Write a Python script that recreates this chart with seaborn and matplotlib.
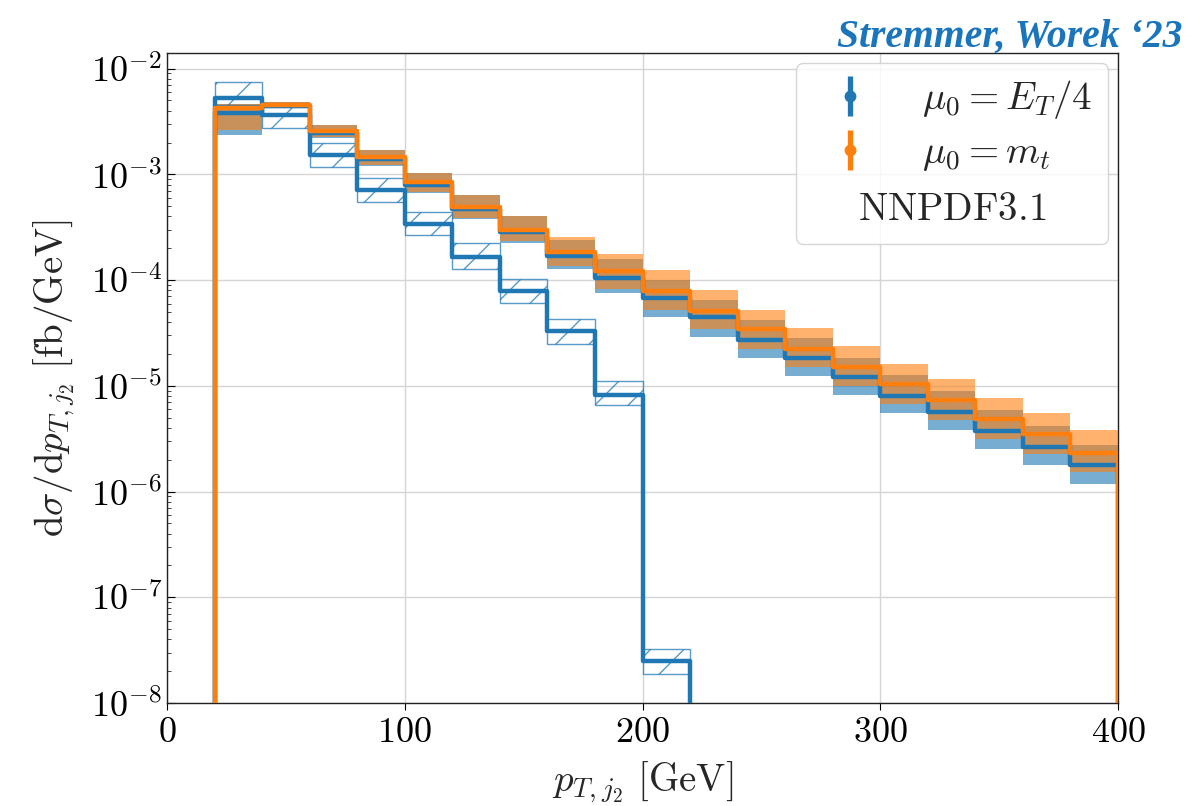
import numpy as np
import pandas as pd
import matplotlib
matplotlib.use("Agg")
import matplotlib.pyplot as plt
import seaborn as sns
from matplotlib.lines import Line2D
from matplotlib.legend_handler import HandlerTuple
from matplotlib.ticker import FuncFormatter, LogLocator, NullFormatter, FixedLocator

# ---------------------------------------------------------------- data
# bin edges in GeV
edges = np.arange(20, 401, 20)
edges_low = np.arange(20, 221, 20)

# mu0 = m_t : central value and scale band
mt_central = [4.2e-3, 4.58e-3, 2.55e-3, 1.46e-3, 8.4e-4, 4.9e-4, 2.97e-4, 1.85e-4, 1.22e-4, 7.9e-5,
              5.1e-5, 3.41e-5, 2.25e-5, 1.51e-5, 1.03e-5, 7.3e-6, 4.9e-6, 3.54e-6, 2.34e-6]
mt_high = [4.6e-3, 4.8e-3, 2.92e-3, 1.7e-3, 1.04e-3, 6.45e-4, 4.0e-4, 2.57e-4, 1.76e-4, 1.24e-4,
           8.0e-5, 5.27e-5, 3.51e-5, 2.39e-5, 1.62e-5, 1.15e-5, 7.6e-6, 5.55e-6, 3.8e-6]
mt_low = [2.62e-3, 4.3e-3, 2.26e-3, 1.23e-3, 6.8e-4, 3.9e-4, 2.33e-4, 1.35e-4, 8.3e-5, 5.2e-5,
          3.41e-5, 2.22e-5, 1.51e-5, 9.9e-6, 6.8e-6, 4.8e-6, 3.17e-6, 2.25e-6, 1.53e-6]

# mu0 = E_T/4 : central value and scale band
et_central = [3.77e-3, 4.45e-3, 2.45e-3, 1.4e-3, 8.0e-4, 4.7e-4, 2.82e-4, 1.68e-4, 1.05e-4, 6.7e-5,
              4.43e-5, 2.74e-5, 1.84e-5, 1.21e-5, 8.0e-6, 5.7e-6, 3.74e-6, 2.64e-6, 1.77e-6]
et_high = [4.6e-3, 4.8e-3, 2.92e-3, 1.7e-3, 1.02e-3, 6.4e-4, 4.0e-4, 2.4e-4, 1.58e-4, 1.01e-4,
           6.5e-5, 4.18e-5, 2.86e-5, 1.85e-5, 1.26e-5, 8.9e-6, 5.9e-6, 4.18e-6, 2.74e-6]
et_low = [2.38e-3, 4.25e-3, 2.2e-3, 1.2e-3, 6.6e-4, 3.75e-4, 2.22e-4, 1.26e-4, 7.5e-5, 4.5e-5,
          2.9e-5, 1.85e-5, 1.23e-5, 8.1e-6, 5.5e-6, 3.8e-6, 2.53e-6, 1.77e-6, 1.17e-6]

# mu0 = E_T/4, second prediction (hatched band), up to 220 GeV
eth_central = [5.3e-3, 3.63e-3, 1.53e-3, 7.1e-4, 3.43e-4, 1.64e-4, 7.9e-5, 3.3e-5, 8.1e-6, 2.5e-8]
eth_high = [7.5e-3, 4.3e-3, 2.0e-3, 9.2e-4, 4.4e-4, 2.22e-4, 1.03e-4, 4.27e-5, 1.11e-5, 3.27e-8]
eth_low = [4.5e-3, 2.75e-3, 1.18e-3, 5.5e-4, 2.66e-4, 1.26e-4, 6.1e-5, 2.51e-5, 6.6e-6, 1.9e-8]

labels = [r"$\mu_0 = E_T/4$", r"$\mu_0 = m_t$"]
pdf_set = r"$\mathrm{NNPDF3.1}$"
credit = "Stremmer, Worek \u201823"

BLUE = "#1f77b4"
ORANGE = "#ff7f0e"
YMIN, YMAX = 1e-8, 1.4e-2

# ---------------------------------------------------------------- style
sns.set_style("ticks")
plt.rcParams["mathtext.fontset"] = "cm"
plt.rcParams["font.family"] = ["DejaVu Serif"]
plt.rcParams["hatch.linewidth"] = 1.0
FS = 26
LABEL_FS = 28


def step_frame(bin_edges, values, floor):
    """Histogram outline (with drops to the floor at both ends) as a frame."""
    x = [bin_edges[0]] + list(bin_edges) + [bin_edges[-1]]
    y = [floor] + list(values) + [values[-1], floor]
    return pd.DataFrame({"x": x, "y": y})


def extend(values):
    return list(values) + [values[-1]]


fig = plt.figure(figsize=(12.04, 8.06), dpi=100)
ax = fig.add_axes([0.1387, 0.1278, 0.7899, 0.8062])
ax.set_yscale("log")

# scale-uncertainty bands
ax.fill_between(edges, extend(et_low), extend(et_high), step="post",
                color=BLUE, alpha=0.6, lw=0, zorder=2)
ax.fill_between(edges, extend(mt_low), extend(mt_high), step="post",
                color=ORANGE, alpha=0.6, lw=0, zorder=3)

# hatched band, one box per bin
ax.bar(edges_low[:-1], np.array(eth_high) - np.array(eth_low), width=20,
       bottom=eth_low, align="edge", fill=False, hatch="/",
       edgecolor=(0.12, 0.47, 0.71, 0.75), lw=1.0, zorder=4)

# histogram outlines
floor = YMIN * 1e-3
sns.lineplot(data=step_frame(edges_low, eth_central, floor), x="x", y="y", ax=ax,
             estimator=None, sort=False, drawstyle="steps-post", color=BLUE,
             lw=3.2, zorder=5)
sns.lineplot(data=step_frame(edges, et_central, floor), x="x", y="y", ax=ax,
             estimator=None, sort=False, drawstyle="steps-post", color=BLUE,
             lw=3.2, zorder=5)
sns.lineplot(data=step_frame(edges, mt_central, floor), x="x", y="y", ax=ax,
             estimator=None, sort=False, drawstyle="steps-post", color=ORANGE,
             lw=3.2, zorder=6)

# ---------------------------------------------------------------- axes
ax.set_xlim(0, 400)
ax.set_ylim(YMIN, YMAX)
ax.xaxis.set_major_locator(FixedLocator([0, 100, 200, 300, 400]))
ax.xaxis.set_major_formatter(FuncFormatter(lambda v, p: f"${v:g}$"))
ax.yaxis.set_major_locator(LogLocator(base=10, numticks=20))
ax.yaxis.set_minor_locator(LogLocator(base=10, subs=np.arange(2, 10), numticks=20))
ax.yaxis.set_major_formatter(FuncFormatter(lambda v, p: f"$10^{{{int(round(np.log10(v)))}}}$"))
ax.yaxis.set_minor_formatter(NullFormatter())
ax.tick_params(axis="both", labelsize=FS, colors="black")
ax.tick_params(axis="y", which="both", direction="in")
ax.tick_params(axis="y", which="major", length=6)
ax.tick_params(axis="y", which="minor", length=3)
ax.tick_params(axis="x", which="major", length=5, direction="out")
ax.grid(True, which="major", color="#d5d5d5", lw=1.0, zorder=0)
ax.set_axisbelow(True)
for s in ax.spines.values():
    s.set_visible(True)
    s.set_color("#222222")
    s.set_linewidth(1.0)

ax.set_xlabel(r"$p_{T,j_2}\ [\mathrm{GeV}]$", fontsize=LABEL_FS, labelpad=8)
ax.set_ylabel(r"$\mathrm{d}\sigma/\mathrm{d}p_{T,j_2}\ [\mathrm{fb/GeV}]$", fontsize=LABEL_FS, labelpad=10)

# ---------------------------------------------------------------- legend
handles = []
for c in (BLUE, ORANGE):
    bar = Line2D([], [], color=c, marker="|", markersize=29, mew=3.8, ls="none")
    dot = Line2D([], [], color=c, marker="o", markersize=7.5, ls="none")
    handles.append((bar, dot))
leg = ax.legend(handles, labels, handler_map={tuple: HandlerTuple(ndivide=1)},
                loc="upper right", fontsize=28, title=pdf_set, title_fontsize=28,
                frameon=True, fancybox=True, framealpha=0.8, edgecolor="#cccccc",
                borderaxespad=0.25, borderpad=0.4, handlelength=2.0,
                handletextpad=0.86, labelspacing=0.33)
# place the PDF-set note underneath the entries
box = leg._legend_box
box._children = [box._children[1], box._children[0]]
box.sep = 13

fig.text(0.982, 0.977, credit, ha="right", va="top", color="#1a75bc",
         fontsize=28.5, fontstyle="italic", fontweight="bold",
         family=["Liberation Serif", "DejaVu Serif"])

fig.savefig("out.png", dpi=100)
